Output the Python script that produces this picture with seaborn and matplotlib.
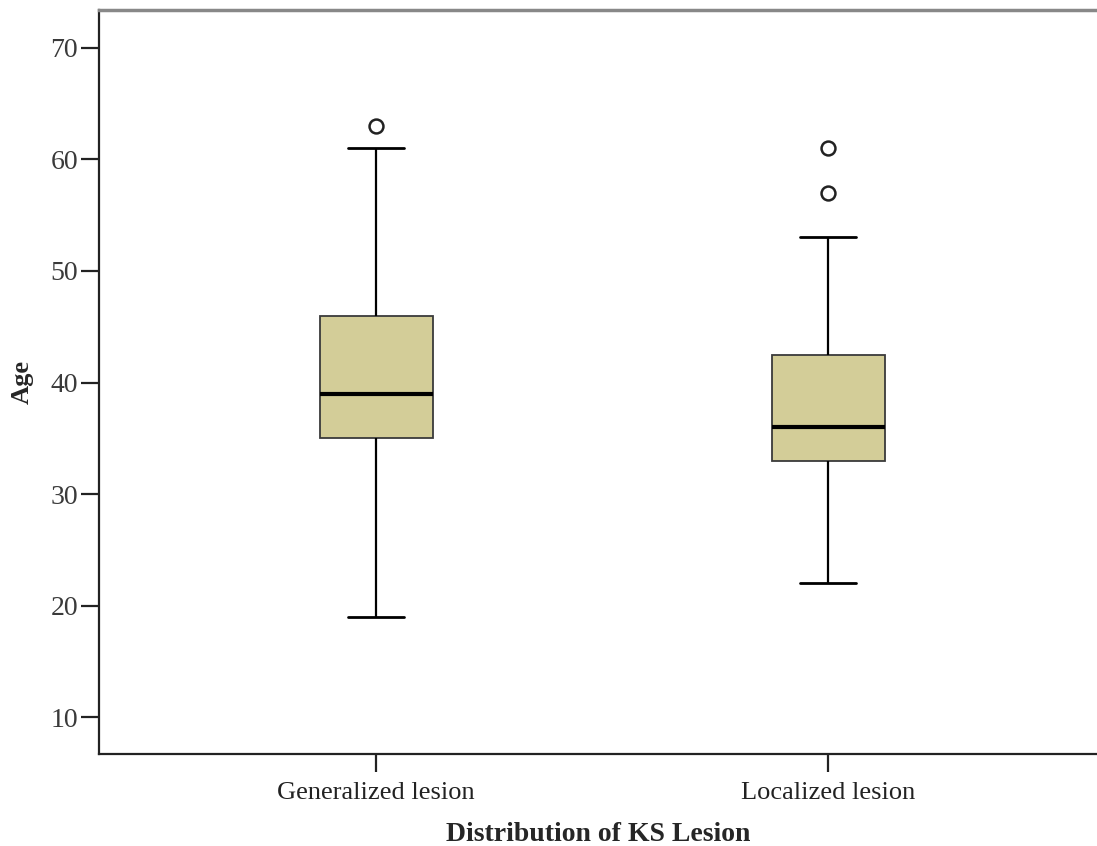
import numpy as np
import pandas as pd
import matplotlib
matplotlib.use("Agg")
import matplotlib.pyplot as plt
import seaborn as sns

categories = ["Generalized lesion", "Localized lesion"]
generalized_ages = [19, 30, 35, 37, 39, 42, 46, 61, 63]
localized_ages = [22, 27, 30, 33, 34, 35, 36, 38, 40, 42.5, 53, 57, 61]
y_ticks = [10, 20, 30, 40, 50, 60, 70]

df = pd.DataFrame({
    "group": [categories[0]] * len(generalized_ages) + [categories[1]] * len(localized_ages),
    "Age": generalized_ages + localized_ages,
})

sns.set_style("white")
plt.rcParams["font.family"] = ["Liberation Serif", "DejaVu Serif"]

fig = plt.figure(figsize=(10.97, 8.46), dpi=100)
ax = fig.add_axes([99 / 1097, 1 - 754 / 846, 1 - 99 / 1097, (754 - 10) / 846])

sns.boxplot(
    data=df, x="group", y="Age", order=categories, ax=ax,
    color="#d3cd98", width=0.25, whis=1.5, saturation=1,
    boxprops=dict(edgecolor="#3a3a3a", linewidth=1.3),
    medianprops=dict(color="black", linewidth=3),
    whiskerprops=dict(color="black", linewidth=1.6),
    capprops=dict(color="black", linewidth=2),
    flierprops=dict(marker="o", markersize=10, markerfacecolor="white",
                    markeredgecolor="#222222", markeredgewidth=1.8),
)

ax.set_xlim(-0.613, 1.595)
ax.set_ylim(6.71, 73.38)
ax.set_yticks(y_ticks)
ax.set_yticklabels([str(t) for t in y_ticks], fontsize=20, color="#3a3a3a")
ax.set_xticks([0, 1])
ax.set_xticklabels(categories, fontsize=19, color="#222222")
ax.tick_params(axis="both", direction="out", length=13, width=1.6, color="#222222",
               left=True, bottom=True, pad=2)
ax.tick_params(axis="x", pad=7)

ax.set_ylabel("Age", fontsize=19, fontweight="bold", labelpad=12)
ax.set_xlabel("Distribution of KS Lesion", fontsize=20, fontweight="bold", labelpad=13)

for side in ["left", "bottom"]:
    ax.spines[side].set_color("#222222")
    ax.spines[side].set_linewidth(1.6)
ax.spines["top"].set_color("#888888")
ax.spines["top"].set_linewidth(2.5)
ax.spines["right"].set_visible(False)

fig.savefig("out.png", dpi=100)
